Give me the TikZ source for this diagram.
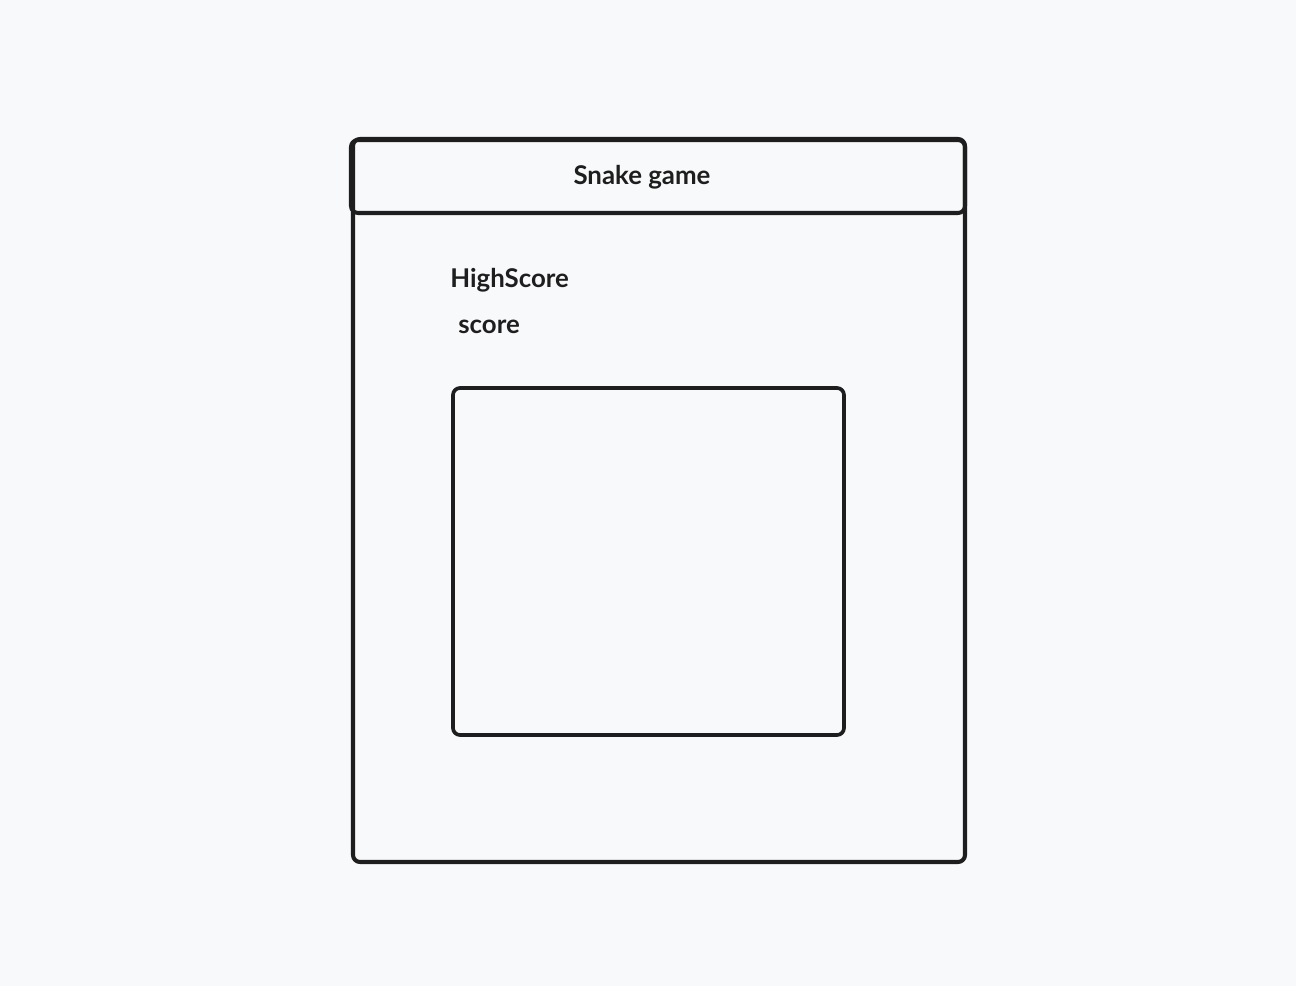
\documentclass[tikz,border=0pt]{standalone}
\usepackage{fontspec}
\setmainfont{Lato}
\usepackage{tikz}
\definecolor{bgcol}{HTML}{F8F9FA}
\definecolor{inkcol}{HTML}{1E1E1E}
\tikzset{label text/.style={font=\fontsize{14.7}{18}\selectfont\bfseries, text=inkcol, inner sep=0pt}}

\begin{document}
\begin{tikzpicture}[line cap=round,line join=round,x=0.02cm,y=-0.02cm]
\fill[bgcol] (0,0) rectangle (1296,986);
\useasboundingbox (0,0) rectangle (1296,986);
\draw [inkcol, line width=2.3pt, rounded corners=4pt] (353,139) rectangle (965,862);
\draw [inkcol, line width=2.3pt, rounded corners=4pt] (351,140) rectangle (965,213);
\draw [inkcol, line width=2.1pt, rounded corners=4pt] (453,388) rectangle (844,735);
\node [label text] (title) at (642,177) {Snake game};
\node [label text, anchor=west] (high) at (450,280) {HighScore};
\node [label text, anchor=west] (score) at (458,327) {score};
\end{tikzpicture}
\end{document}
